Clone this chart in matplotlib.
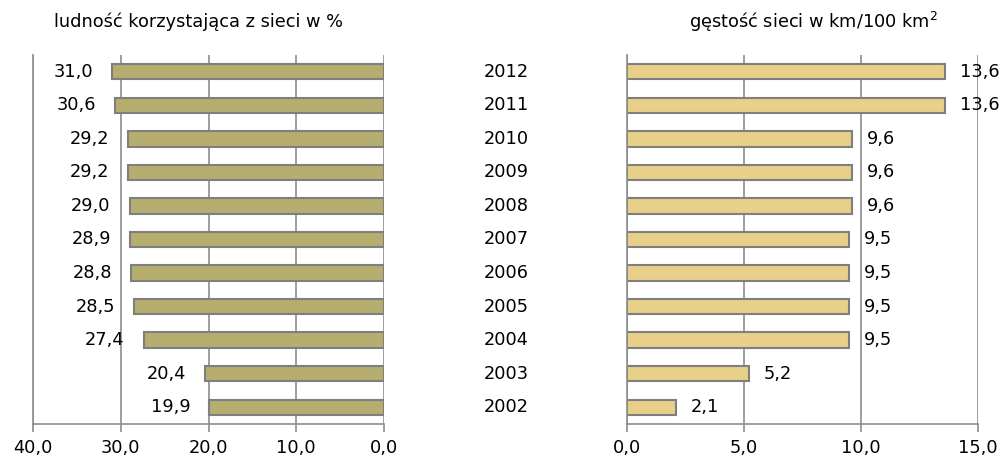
import matplotlib
matplotlib.use('Agg')
import matplotlib.pyplot as plt

# Data
years = ['2012', '2011', '2010', '2009', '2008', '2007', '2006', '2005', '2004', '2003', '2002']
ludnosc = [31.0, 30.6, 29.2, 29.2, 29.0, 28.9, 28.8, 28.5, 27.4, 20.4, 19.9]
gestosc = [13.6, 13.6, 9.6, 9.6, 9.6, 9.5, 9.5, 9.5, 9.5, 5.2, 2.1]

left_ticks = [40, 30, 20, 10, 0]
right_ticks = [0, 5, 10, 15]

plt.rcParams['font.family'] = ['DejaVu Sans']
plt.rcParams['mathtext.fontset'] = 'dejavusans'
fs = 12.8
grid_col = '#8c8c8c'
W, H = 1006, 457

fig = plt.figure(figsize=(W / 100, H / 100), dpi=100)
ax1 = fig.add_axes([33 / W, (H - 424) / H, (384 - 33) / W, (424 - 55) / H])
ax2 = fig.add_axes([627 / W, (H - 424) / H, (978 - 627) / W, (424 - 55) / H])

pos = list(range(len(years)))[::-1]


def fmt(v):
    return f'{v:.1f}'.replace('.', ',')


def style(ax, ticks):
    ax.set_ylim(-0.5, len(years) - 0.5)
    ax.set_xticks(ticks)
    ax.set_xticklabels([fmt(t) for t in ticks], fontsize=fs)
    ax.set_yticks([])
    ax.grid(axis='x', color=grid_col, linewidth=1.2)
    ax.set_axisbelow(True)
    for s in ['top', 'right']:
        ax.spines[s].set_visible(False)
    for s in ['bottom', 'left']:
        ax.spines[s].set_color(grid_col)
        ax.spines[s].set_linewidth(1.2)
    ax.tick_params(axis='x', length=6, width=1.2, color=grid_col, pad=5)


# left panel
ax1.barh(pos, ludnosc, height=0.46, color='#b5ae6e', edgecolor='#7f7f7f', linewidth=1.5)
ax1.set_xlim(40, 0)
style(ax1, left_ticks)
for p, v in zip(pos, ludnosc):
    ax1.annotate(fmt(v), xy=(v, p), xytext=(-19, 0), textcoords='offset pixels',
                 ha='right', va='center', fontsize=fs)
fig.text(198 / W, 1 - 22 / H, 'ludność korzystająca z sieci w %', ha='center', va='center', fontsize=fs)

# right panel
ax2.barh(pos, gestosc, height=0.46, color='#e8d08a', edgecolor='#7f7f7f', linewidth=1.5)
ax2.set_xlim(0, 15)
style(ax2, right_ticks)
for p, v in zip(pos, gestosc):
    ax2.annotate(fmt(v), xy=(v, p), xytext=(15, 0), textcoords='offset pixels',
                 ha='left', va='center', fontsize=fs)
fig.text(813 / W, 1 - 22 / H, 'gęstość sieci w km/100 km$^2$', ha='center', va='center', fontsize=fs)

# year labels between panels
for p, y in zip(pos, years):
    ax1.annotate(y, xy=(0, p), xycoords=('axes fraction', 'data'),
                 xytext=(506 - 33, 0), textcoords='offset pixels',
                 ha='center', va='center', fontsize=fs, annotation_clip=False)

fig.savefig('out.png', dpi=100)
